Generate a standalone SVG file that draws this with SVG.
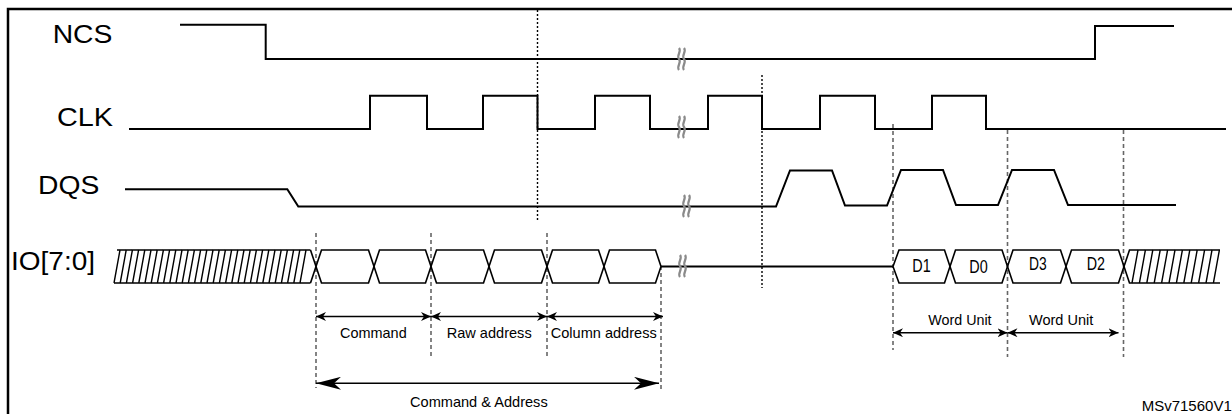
<svg xmlns="http://www.w3.org/2000/svg" width="1232" height="414" viewBox="0 0 1232 414">
<style>
.wave{fill:none;stroke:#000;stroke-width:2;stroke-linejoin:miter}
.bus{fill:none;stroke:#000;stroke-width:1.6}
.hatch{fill:none;stroke:#000;stroke-width:1.4}
.dot{stroke:#000;stroke-width:1.4;stroke-dasharray:2 2;fill:none}
.gdash{stroke:#666;stroke-width:1.6;stroke-dasharray:4 3;fill:none}
.brk{fill:none;stroke:#8a8a8a;stroke-width:2.2}
.arr{stroke:#000;stroke-width:1.6;fill:none}
.sig{font-family:"Liberation Sans",Arial,sans-serif;font-size:25px;fill:#000}
.lbl{font-family:"Liberation Sans",Arial,sans-serif;font-size:15px;fill:#000}
.dl{font-family:"Liberation Sans",Arial,sans-serif;font-size:18px;fill:#000}
</style>
<defs>
<marker id="ah" viewBox="0 0 10 9" refX="10" refY="4.5" markerWidth="10" markerHeight="9" markerUnits="userSpaceOnUse" orient="auto-start-reverse">
<path d="M0,0 L10,4.5 L0,9 L3,4.5 Z" fill="#000"/>
</marker>
<marker id="ahb" viewBox="0 0 25 13" refX="25" refY="6.5" markerWidth="25" markerHeight="13" markerUnits="userSpaceOnUse" orient="auto-start-reverse">
<path d="M0,0 L25,6.5 L0,13 L7,6.5 Z" fill="#000"/>
</marker>
</defs>
<rect x="8" y="9" width="1240" height="420" fill="#fff" stroke="#000" stroke-width="2.5"/>

<g id="guides">
<line class="dot" x1="537.5" y1="10" x2="537.5" y2="220"/>
<line class="dot" x1="762" y1="75" x2="762" y2="288"/>
<line class="gdash" x1="316" y1="233" x2="316" y2="388"/>
<line class="gdash" x1="431" y1="233" x2="431" y2="358"/>
<line class="gdash" x1="547" y1="233" x2="547" y2="357"/>
<line class="gdash" x1="661" y1="266" x2="661" y2="392"/>
<line class="gdash" x1="893" y1="124" x2="893" y2="350"/>
<line class="gdash" x1="1007.5" y1="130" x2="1007.5" y2="357"/>
<line class="gdash" x1="1123.5" y1="130" x2="1123.5" y2="357"/>
</g>

<g id="ncs">
<text class="sig" x="52.7" y="42.7" textLength="59.7" lengthAdjust="spacingAndGlyphs">NCS</text>
<path class="wave" d="M180,24.7 H265.7 V59 H1095 V26 H1174"/>
</g>

<g id="clk">
<text class="sig" x="57" y="126" textLength="56" lengthAdjust="spacingAndGlyphs">CLK</text>
<path class="wave" d="M129,129 H370 V95.7 H427 V129 H483 V95.7 H537.5 V129 H595 V95.7 H650 V129 H708 V95.7 H762 V129 H820 V95.7 H875 V129 H932 V95.7 H986 V129 H1226"/>
</g>

<g id="dqs">
<text class="sig" x="38" y="194.3" textLength="61.3" lengthAdjust="spacingAndGlyphs">DQS</text>
<path class="wave" d="M125,189.3 H287.3 L298.3,206.5 H776 L790,170.5 H832 L845,205.5 H887 L901,170 H943 L956,205 H998 L1012,170 H1054 L1068,205 H1176"/>
</g>

<g id="io">
<text class="sig" x="11" y="270" font-size="24" textLength="84" lengthAdjust="spacingAndGlyphs">IO[7:0]</text>
<path class="bus" d="M117,250 H310.5 M114,283 H310.5"/>
<path class="hatch" d="M114,283 l6,-33 M120.2,283 l6,-33 M126.4,283 l6,-33 M132.6,283 l6,-33 M138.8,283 l6,-33 M145,283 l6,-33 M151.2,283 l6,-33 M157.4,283 l6,-33 M163.6,283 l6,-33 M169.8,283 l6,-33 M176,283 l6,-33 M182.2,283 l6,-33 M188.4,283 l6,-33 M194.6,283 l6,-33 M200.8,283 l6,-33 M207,283 l6,-33 M213.2,283 l6,-33 M219.4,283 l6,-33 M225.6,283 l6,-33 M231.8,283 l6,-33 M238,283 l6,-33 M244.2,283 l6,-33 M250.4,283 l6,-33 M256.6,283 l6,-33 M262.8,283 l6,-33 M269,283 l6,-33 M275.2,283 l6,-33 M281.4,283 l6,-33 M287.6,283 l6,-33 M293.8,283 l6,-33 M300,283 l6,-33"/>
<path class="bus" d="M310.5,283 L321.5,250 H368.5 L379.5,283 H425.5 L436.5,250 H483.5 L494.5,283 H541.5 L552.5,250 H598.5 L609.5,283 H655.5 L661,266.5"/>
<path class="bus" d="M310.5,250 L321.5,283 H368.5 L379.5,250 H425.5 L436.5,283 H483.5 L494.5,250 H541.5 L552.5,283 H598.5 L609.5,250 H655.5 L661,266.5"/>
<path class="wave" d="M661,266.5 H893"/>
<path class="bus" d="M893,266.5 L899,250 H944.5 L955.5,283 H1002 L1013,250 H1060.5 L1071.5,283 H1118.5 L1129.5,250 H1220"/>
<path class="bus" d="M893,266.5 L899,283 H944.5 L955.5,250 H1002 L1013,283 H1060.5 L1071.5,250 H1118.5 L1129.5,283 H1220"/>
<path class="hatch" d="M1132,283 l6,-33 M1139.4,283 l6,-33 M1146.8,283 l6,-33 M1154.2,283 l6,-33 M1161.6,283 l6,-33 M1169,283 l6,-33 M1176.4,283 l6,-33 M1183.8,283 l6,-33 M1191.2,283 l6,-33 M1198.6,283 l6,-33 M1206,283 l6,-33 M1213.4,283 l6,-33"/>
<text class="dl" x="912.3" y="271.7" textLength="18.4" lengthAdjust="spacingAndGlyphs">D1</text>
<text class="dl" x="969.3" y="273.3" textLength="18.4" lengthAdjust="spacingAndGlyphs">D0</text>
<text class="dl" x="1029" y="270" textLength="17.7" lengthAdjust="spacingAndGlyphs">D3</text>
<text class="dl" x="1086.7" y="270" textLength="18.3" lengthAdjust="spacingAndGlyphs">D2</text>
</g>

<g id="breaks">
<path class="brk" d="M679,48 c3,4 -3,7 0,11 c3,4 -3,7 0,11 M684,48 c3,4 -3,7 0,11 c3,4 -3,7 0,11"/>
<path class="brk" d="M679,116 c3,4 -3,7 0,11 c3,4 -3,7 0,11 M684,116 c3,4 -3,7 0,11 c3,4 -3,7 0,11"/>
<path class="brk" d="M684,195 c3,4 -3,7 0,11 c3,4 -3,7 0,11 M689,195 c3,4 -3,7 0,11 c3,4 -3,7 0,11"/>
<path class="brk" d="M680,255 c3,4 -3,7 0,11 c3,4 -3,7 0,11 M685,255 c3,4 -3,7 0,11 c3,4 -3,7 0,11"/>
</g>

<g id="connectors">
<line class="arr" x1="316" y1="316.5" x2="431" y2="316.5" marker-start="url(#ah)" marker-end="url(#ah)"/>
<line class="arr" x1="431" y1="316.5" x2="547" y2="316.5" marker-start="url(#ah)" marker-end="url(#ah)"/>
<line class="arr" x1="547" y1="316.5" x2="663" y2="316.5" marker-start="url(#ah)" marker-end="url(#ah)"/>
<line class="arr" x1="316" y1="383.3" x2="659" y2="383.3" stroke-width="2" marker-start="url(#ahb)" marker-end="url(#ahb)"/>
<line class="arr" x1="893" y1="332.7" x2="1007.5" y2="332.7" marker-start="url(#ah)" marker-end="url(#ah)"/>
<line class="arr" x1="1007.5" y1="332.7" x2="1118.5" y2="332.7" marker-start="url(#ah)" marker-end="url(#ah)"/>
</g>

<g id="labels">
<text class="lbl" x="340" y="337.7" textLength="66.7" lengthAdjust="spacingAndGlyphs">Command</text>
<text class="lbl" x="446.7" y="337.7" textLength="85" lengthAdjust="spacingAndGlyphs">Raw address</text>
<text class="lbl" x="550.7" y="337.7" textLength="106" lengthAdjust="spacingAndGlyphs">Column address</text>
<text class="lbl" x="410" y="406.7" textLength="137.7" lengthAdjust="spacingAndGlyphs">Command &amp; Address</text>
<text class="lbl" x="928.3" y="325" font-size="16" textLength="63.3" lengthAdjust="spacingAndGlyphs">Word Unit</text>
<text class="lbl" x="1029" y="325" font-size="16" textLength="64.3" lengthAdjust="spacingAndGlyphs">Word Unit</text>
<text class="lbl" x="1141.7" y="410.7" font-size="16">MSv71560V1</text>
</g>
</svg>
